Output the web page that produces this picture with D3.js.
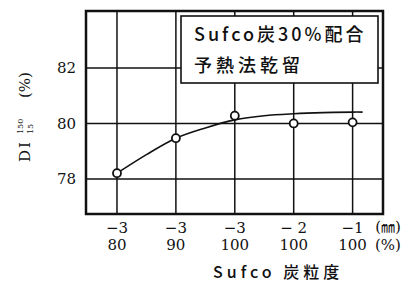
<!DOCTYPE html>
<meta charset="utf-8">
<style>
body { margin: 0; background: #fff; }
text { fill: #111; }
.num { font-family: "DejaVu Serif", serif; }
.jp { font-family: "Noto Sans CJK JP", sans-serif; font-weight: 500; }
</style>
<svg width="411" height="282"></svg>
<script src="https://cdn.jsdelivr.net/npm/d3@7"></script>
<script>

var svg = d3.select("svg");

// categories (coal particle size)
var sizeLabels = ["\u22123", "\u22123", "\u22123", "\u2212 2", "\u22121"];
var pctLabels = ["80", "90", "100", "100", "100"];

// measured DI values
var diValues = [78.21, 79.47, 80.28, 80.0, 80.04];

// fitted curve (x in category index)
var fitX = [0, 0.5, 1, 1.5, 2, 2.5, 3, 3.5, 4, 4.17];
var fitY = [78.21, 78.88, 79.47, 79.84, 80.13, 80.28, 80.35, 80.39, 80.41, 80.41];

var yTicks = [78, 80, 82];

var pL = 86, pT = 11, pR = 383, pB = 214;

var x = d3.scaleLinear().domain([-0.526, 4.516]).range([pL, pR]);
var y = d3.scaleLinear().domain([76.74, 84.05]).range([pB, pT]);

// grid
svg.append("g").selectAll("line")
    .data(yTicks).enter().append("line")
    .attr("x1", pL).attr("x2", pR)
    .attr("y1", function(d) { return y(d); })
    .attr("y2", function(d) { return y(d); })
    .attr("stroke", "#111").attr("stroke-width", 1.5);

svg.append("g").selectAll("line")
    .data(d3.range(sizeLabels.length)).enter().append("line")
    .attr("x1", function(d) { return x(d); })
    .attr("x2", function(d) { return x(d); })
    .attr("y1", pT).attr("y2", pB)
    .attr("stroke", "#111").attr("stroke-width", 1.5);

// legend box (sits over the grid)
svg.append("rect")
    .attr("x", 181).attr("y", 16).attr("width", 197).attr("height", 67)
    .attr("fill", "#fff").attr("stroke", "#111").attr("stroke-width", 1.6);

svg.append("text").attr("class", "jp")
    .attr("x", 194).attr("y", 41)
    .style("font-size", "18px").attr("letter-spacing", 3)
    .text("Sufco炭30%配合");

svg.append("text").attr("class", "jp")
    .attr("x", 194).attr("y", 72)
    .style("font-size", "18px").attr("letter-spacing", 4)
    .text("予熱法乾留");

// frame
svg.append("rect")
    .attr("x", pL).attr("y", pT)
    .attr("width", pR - pL).attr("height", pB - pT)
    .attr("fill", "none").attr("stroke", "#111").attr("stroke-width", 2.5);

// curve
var line = d3.line()
    .x(function(d) { return x(d[0]); })
    .y(function(d) { return y(d[1]); })
    .curve(d3.curveCatmullRom);

svg.append("path")
    .datum(d3.zip(fitX, fitY))
    .attr("d", line)
    .attr("fill", "none").attr("stroke", "#111").attr("stroke-width", 1.6);

// points
svg.append("g").selectAll("circle")
    .data(diValues).enter().append("circle")
    .attr("cx", function(d, i) { return x(i); })
    .attr("cy", function(d) { return y(d); })
    .attr("r", 4)
    .attr("fill", "#fff").attr("stroke", "#111").attr("stroke-width", 1.8);

// y tick labels
svg.append("g").selectAll("text")
    .data(yTicks).enter().append("text")
    .attr("class", "num")
    .style("font-size", "15px")
    .attr("x", 76)
    .attr("y", function(d) { return y(d); })
    .attr("dy", "0.36em")
    .attr("text-anchor", "end")
    .text(function(d) { return d; });

// x tick labels, two rows
svg.append("g").selectAll("text")
    .data(sizeLabels).enter().append("text")
    .attr("class", "num")
    .style("font-size", "15px")
    .attr("x", function(d, i) { return x(i); })
    .attr("y", 233)
    .attr("text-anchor", "middle")
    .text(function(d) { return d; });

svg.append("g").selectAll("text")
    .data(pctLabels).enter().append("text")
    .attr("class", "num")
    .style("font-size", "15px")
    .attr("x", function(d, i) { return x(i); })
    .attr("y", 250)
    .attr("text-anchor", "middle")
    .text(function(d) { return d; });

// units
var mm = svg.append("text").attr("class", "num")
    .attr("x", 388).attr("y", 232).attr("text-anchor", "middle")
    .style("font-size", "15px");
mm.append("tspan").text("(");
mm.append("tspan").style("font-family", "'Noto Sans CJK JP', sans-serif")
    .style("font-size", "14px").text("\u339C");
mm.append("tspan").text(")");
svg.append("text").attr("class", "num")
    .attr("x", 388).attr("y", 250).attr("text-anchor", "middle")
    .style("font-size", "15px").text("(%)");

// x title
svg.append("text").attr("class", "jp")
    .attr("x", 213).attr("y", 278)
    .style("font-size", "16px").attr("letter-spacing", 4)
    .text("Sufco 炭粒度");

// y title: DI with stacked 150 / 15, then (%)
var yl = svg.append("g").attr("transform", "rotate(-90)");
yl.append("text").attr("class", "num")
    .attr("x", -162).attr("y", 30)
    .style("font-size", "15px").attr("letter-spacing", 2)
    .text("DI");
yl.append("text").attr("class", "num")
    .attr("x", -134).attr("y", 23)
    .style("font-size", "8px")
    .text("150");
yl.append("text").attr("class", "num")
    .attr("x", -134).attr("y", 33)
    .style("font-size", "8px")
    .text("15");
yl.append("text").attr("class", "num")
    .attr("x", -98).attr("y", 30)
    .style("font-size", "15px")
    .text("(%)");

</script>
